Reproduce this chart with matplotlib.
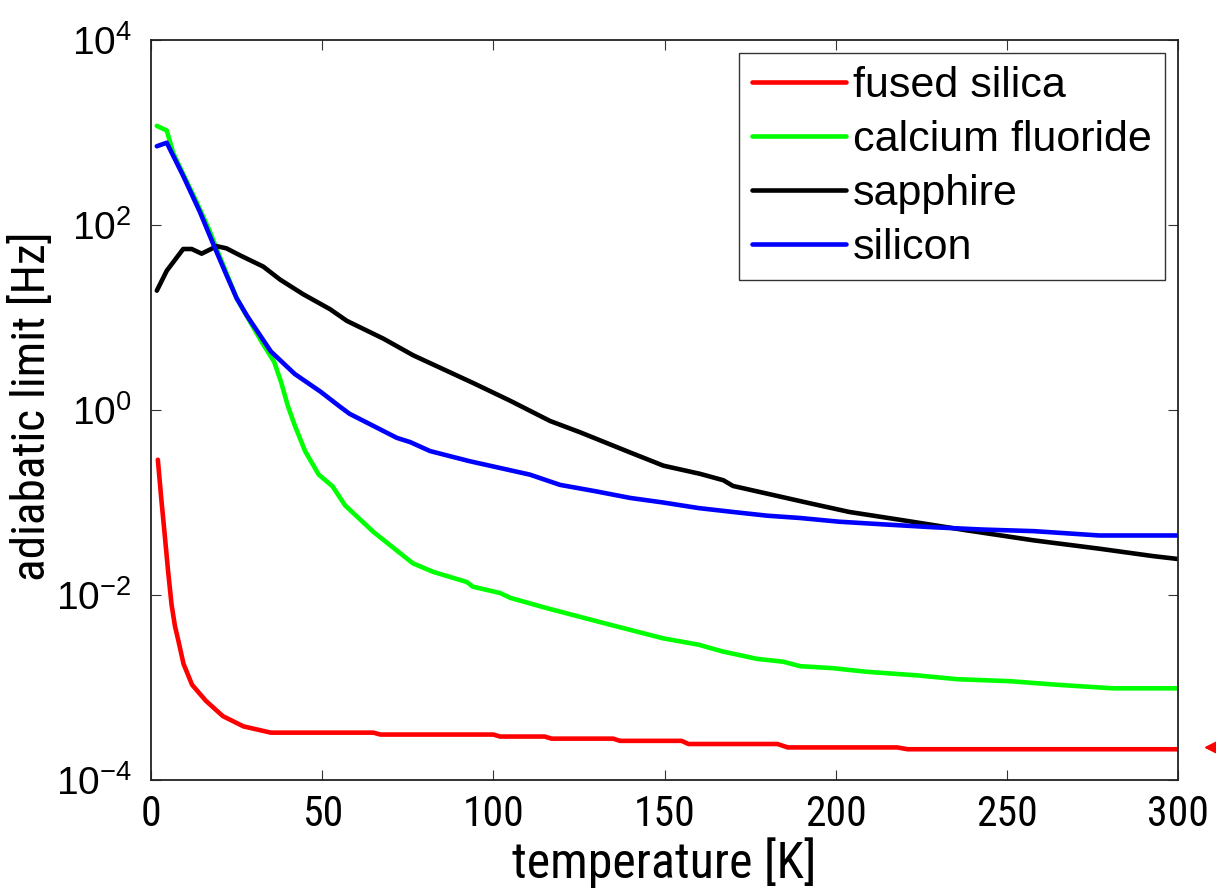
import matplotlib
matplotlib.use("Agg")
import matplotlib.pyplot as plt
from matplotlib import font_manager

# ---------------- data ----------------
T_silica = [2, 3, 4, 5, 6, 7, 8, 9.5, 12, 16, 21, 27, 35, 65, 67, 100, 102, 115, 117,
            135, 137, 155, 157, 183, 186, 218, 221, 300]
v_silica = [0.29, 0.11, 0.045, 0.018, 0.0079, 0.0046, 0.0032, 0.0018, 0.00107, 7.2e-4,
            4.9e-4, 3.8e-4, 3.25e-4, 3.25e-4, 3.1e-4, 3.1e-4, 2.95e-4, 2.95e-4, 2.8e-4,
            2.8e-4, 2.65e-4, 2.65e-4, 2.45e-4, 2.45e-4, 2.25e-4, 2.25e-4, 2.15e-4, 2.15e-4]

T_caf2 = [1.7, 4.6, 6.5, 9.4, 13.3, 17.2, 19.2, 25, 29, 32.4, 36, 38, 40, 42, 45, 49, 53,
          56.7, 65, 76.5, 82.4, 92.3, 94, 102, 105, 115.7, 132, 149.6, 160, 167, 177,
          184.7, 189.6, 199, 209, 224, 235.5, 251, 264.7, 281, 300]
v_caf2 = [1180, 1050, 600, 355, 178, 85, 55, 16.2, 8.9, 5.4, 3.3, 2.0, 1.1, 0.68, 0.36,
          0.20, 0.15, 0.093, 0.048, 0.022, 0.0178, 0.0138, 0.0123, 0.0105, 0.0093, 0.0072,
          0.0050, 0.0034, 0.0029, 0.00245, 0.00204, 0.0019, 0.0017, 0.00162, 0.00148,
          0.00135, 0.00123, 0.00117, 0.00107, 0.00098, 0.00098]

T_sapph = [1.7, 4.6, 9.4, 11.9, 14.8, 19.2, 22, 26, 32.8, 37.7, 44.5, 52.3, 57.2, 67.9,
           76.6, 94.2, 104.9, 116.6, 125.3, 140, 149.7, 160.4, 167.2, 170, 192.5, 204,
           218.8, 238.3, 257.8, 277.2, 292.8, 300]
v_sapph = [19.5, 32, 55, 55, 49, 59, 56, 47, 35.5, 25.7, 17.8, 12.3, 9.2, 5.9, 3.9, 1.95,
           1.26, 0.76, 0.575, 0.347, 0.25, 0.204, 0.174, 0.151, 0.098, 0.079, 0.065, 0.050,
           0.039, 0.0316, 0.0263, 0.0245]

T_si = [1.7, 4.6, 9.4, 14.3, 18.2, 22, 25, 28, 35, 42, 49.5, 55, 58, 71.8, 75.7, 81.5, 93,
        110.7, 119.5, 130, 140, 149.6, 160, 170, 180, 189.6, 201, 214, 228.5, 243, 258,
        277, 300]
v_si = [710, 775, 340, 138, 62, 29, 16.2, 10.5, 4.3, 2.45, 1.58, 1.1, 0.91, 0.50, 0.45,
        0.36, 0.28, 0.20, 0.155, 0.132, 0.112, 0.100, 0.087, 0.079, 0.072, 0.068, 0.062,
        0.058, 0.054, 0.051, 0.049, 0.044, 0.044]

labels = ["fused silica", "calcium fluoride", "sapphire", "silicon"]
colors = ["#ff0000", "#00ff00", "#000000", "#0000ff"]

marker_T = [310.5]
marker_v = [2.3e-4]

xticks = [0, 50, 100, 150, 200, 250, 300]
yticks = [1e-4, 1e-2, 1e0, 1e2, 1e4]
ytick_labels = ["$10^{-4}$", "$10^{-2}$", "$10^{0}$", "$10^{2}$", "$10^{4}$"]


def pick_font(cands):
    for c in cands:
        try:
            font_manager.findfont(font_manager.FontProperties(family=c),
                                  fallback_to_default=False)
            return c
        except Exception:
            continue
    return "DejaVu Sans"


narrow = pick_font(["Liberation Sans Narrow", "DejaVu Sans Condensed", "Roboto Condensed",
                    "Liberation Sans"])
regular = pick_font(["Liberation Sans", "Arial", "DejaVu Sans"])

plt.rcParams["font.family"] = [regular, "DejaVu Sans"]
plt.rcParams["mathtext.default"] = "regular"

fig = plt.figure(figsize=(12.16, 8.92), dpi=100)
ax = fig.add_axes([151 / 1216, 1 - 780 / 892, 1027 / 1216, 740 / 892])

series = [(T_silica, v_silica), (T_caf2, v_caf2), (T_sapph, v_sapph), (T_si, v_si)]
for (t, v), lab, col in zip(series, labels, colors):
    ax.plot(t, v, color=col, lw=3.3, label=lab, solid_joinstyle="round",
            solid_capstyle="round")

ax.plot(marker_T, marker_v, marker="<", color="#ff0000", markersize=13, ls="none",
        clip_on=False)

ax.set_yscale("log")
ax.set_xlim(0, 300)
ax.set_ylim(1e-4, 1e4)
ax.set_xticks(xticks)
ax.set_xticklabels([str(x) for x in xticks], fontfamily=narrow, fontsize=30)
ax.set_yticks(yticks)
ax.set_yticklabels(ytick_labels, fontsize=28)
ax.yaxis.set_minor_locator(matplotlib.ticker.NullLocator())

ax.tick_params(axis="both", which="major", direction="in", length=7, width=0.8,
               top=True, right=True, color="#333333")
ax.tick_params(axis="x", pad=10)
ax.tick_params(axis="y", pad=14)
for s in ax.spines.values():
    s.set_linewidth(1.3)
    s.set_color("#222222")

ax.set_xlabel("temperature [K]", fontfamily=narrow, fontsize=36, labelpad=2)
ax.set_ylabel("adiabatic limit [Hz]", fontfamily=narrow, fontsize=34)
ax.yaxis.set_label_coords(-0.094, 0.505)

leg = ax.legend(loc="upper right", bbox_to_anchor=(0.987, 0.982), borderaxespad=0,
                fontsize=31, frameon=True, fancybox=False, handlelength=2.2,
                handletextpad=0.15, labelspacing=0.32, borderpad=0.3)
leg.get_frame().set_edgecolor("#000000")
leg.get_frame().set_linewidth(1.0)
for line in leg.get_lines():
    line.set_linewidth(3.3)

fig.savefig("out.png", dpi=100)
